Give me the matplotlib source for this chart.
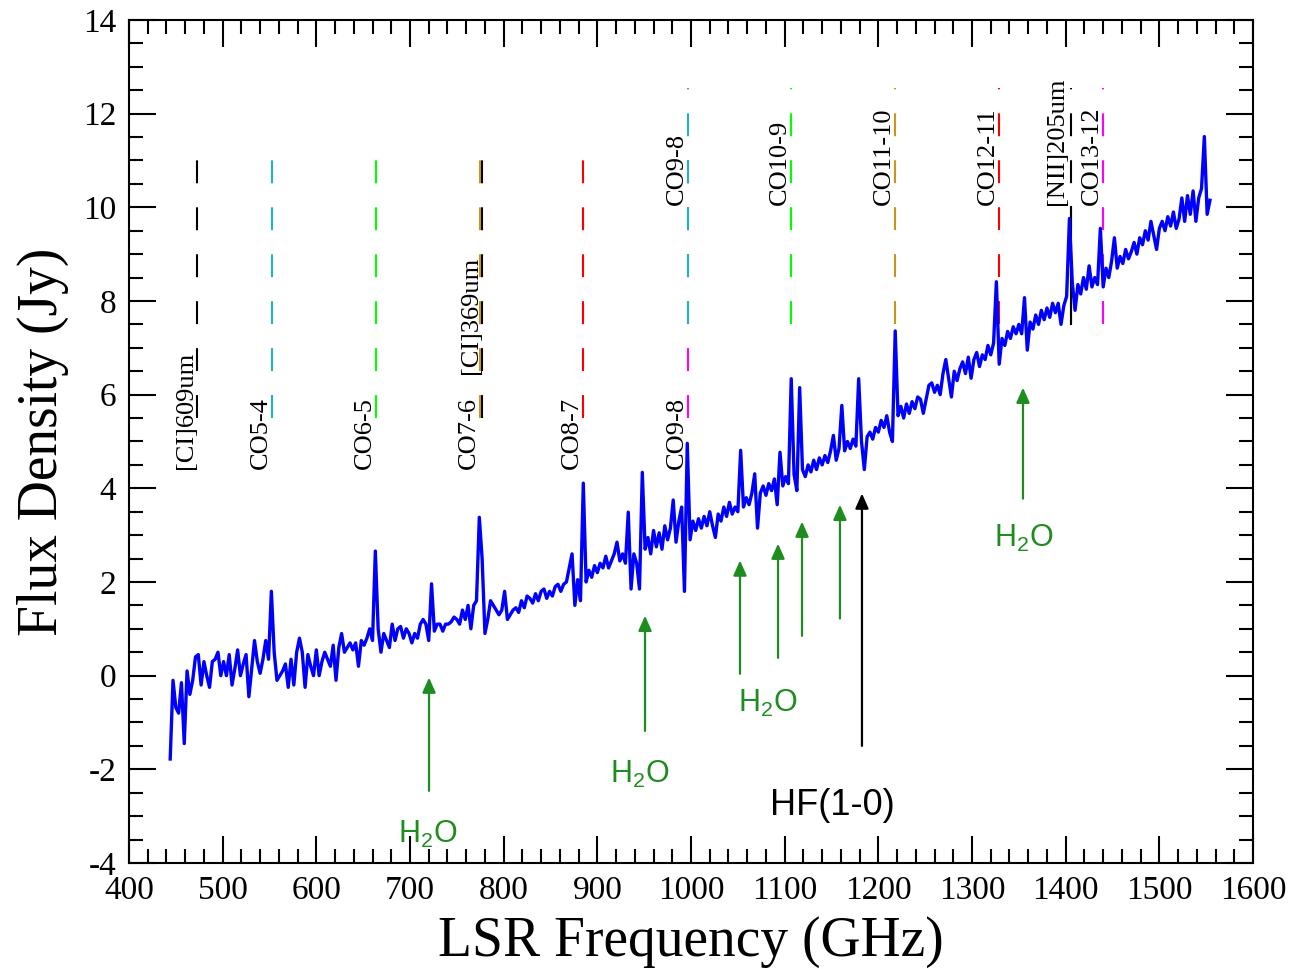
import matplotlib.pyplot as plt
from matplotlib.ticker import MultipleLocator
import numpy as np

plt.rcParams['font.family'] = ['Liberation Serif', 'DejaVu Serif']
plt.rcParams['mathtext.fontset'] = 'custom'
plt.rcParams['mathtext.rm'] = 'Liberation Sans'
plt.rcParams['mathtext.it'] = 'Liberation Sans'
plt.rcParams['lines.scale_dashes'] = False
plt.rcParams['axes.unicode_minus'] = False

# spectrum, one channel every 3 GHz starting at 444 GHz
FREQ_START = 444.0
FREQ_STEP = 3.0
FLUX = [
    # 444 - 471
    -1.78, -0.10, -0.68, -0.80, -0.15, -1.45, 0.10, -0.40, -0.10, 0.40,
    # 474 - 501
    0.45, -0.20, 0.30, 0.00, -0.25, 0.30, 0.35, 0.50, 0.00, 0.30,
    # 504 - 531
    0.00, 0.45, -0.20, 0.15, 0.55, 0.00, 0.25, 0.45, -0.45, 0.15,
    # 534 - 561
    0.75, 0.30, 0.05, 0.35, 0.75, 0.35, 1.80, 0.50, -0.10, 0.00,
    # 564 - 591
    0.10, 0.25, -0.25, 0.35, -0.20, 0.50, 0.80, 0.50, -0.25, 0.45,
    # 594 - 621
    0.20, 0.00, 0.55, 0.00, 0.30, 0.50, 0.35, 0.20, 0.65, -0.10,
    # 624 - 651
    0.60, 0.90, 0.50, 0.60, 0.70, 0.55, 0.70, 0.20, 0.75, 0.65,
    # 654 - 681
    0.80, 1.00, 0.75, 2.66, 1.00, 0.50, 0.90, 0.75, 0.60, 1.10,
    # 684 - 711
    0.75, 1.00, 1.05, 0.80, 1.00, 0.90, 0.70, 0.90, 0.80, 1.10,
    # 714 - 741
    1.20, 1.10, 0.75, 1.96, 0.95, 1.10, 1.10, 0.95, 1.10, 1.10,
    # 744 - 771
    1.15, 1.25, 1.20, 1.10, 1.40, 1.20, 1.50, 1.00, 1.50, 1.60,
    # 774 - 801
    3.38, 2.50, 0.90, 1.20, 1.60, 1.50, 1.40, 1.30, 1.40, 1.80,
    # 804 - 831
    1.20, 1.30, 1.40, 1.45, 1.35, 1.60, 1.45, 1.70, 1.65, 1.55,
    # 834 - 861
    1.75, 1.60, 1.80, 1.85, 1.65, 1.80, 1.70, 1.90, 1.95, 1.80,
    # 864 - 891
    1.95, 2.00, 2.30, 2.60, 1.50, 2.05, 1.60, 4.11, 2.00, 2.25,
    # 894 - 921
    2.10, 2.35, 2.20, 2.40, 2.30, 2.55, 2.30, 2.45, 2.60, 2.85,
    # 924 - 951
    2.45, 2.60, 2.40, 3.49, 1.85, 2.60, 2.40, 1.85, 4.34, 2.70,
    # 954 - 981
    2.95, 2.60, 3.10, 2.75, 3.05, 2.70, 3.20, 2.90, 3.15, 3.75,
    # 984 - 1011
    2.85, 3.30, 3.60, 1.80, 4.96, 2.90, 3.30, 3.10, 3.35, 3.15,
    # 1014 - 1041
    3.40, 3.20, 3.50, 3.20, 2.95, 3.45, 3.30, 3.60, 3.40, 3.70,
    # 1044 - 1071
    3.45, 3.60, 3.50, 4.81, 3.60, 3.80, 3.65, 3.90, 4.31, 3.15,
    # 1074 - 1101
    3.90, 4.05, 3.85, 4.10, 3.95, 4.20, 3.65, 4.77, 4.05, 4.25,
    # 1104 - 1131
    4.10, 6.34, 4.30, 3.95, 6.15, 4.40, 4.25, 4.50, 4.35, 4.60,
    # 1134 - 1161
    4.40, 4.65, 4.50, 4.70, 4.55, 4.80, 5.13, 4.60, 4.85, 5.77,
    # 1164 - 1191
    4.80, 5.00, 4.85, 5.05, 4.90, 6.34, 5.00, 4.40, 5.10, 5.20,
    # 1194 - 1221
    5.05, 5.30, 5.20, 5.45, 5.30, 5.55, 5.20, 5.00, 7.36, 5.55,
    # 1224 - 1251
    5.75, 5.50, 5.80, 5.60, 5.85, 5.70, 5.95, 5.90, 5.60, 5.90,
    # 1254 - 1281
    6.20, 6.25, 6.05, 6.20, 6.00, 6.45, 6.75, 6.35, 5.95, 6.50,
    # 1284 - 1311
    6.30, 6.55, 6.70, 6.45, 6.80, 6.35, 6.75, 6.90, 6.60, 6.85,
    # 1314 - 1341
    6.75, 7.05, 6.85, 7.10, 8.41, 6.65, 7.20, 7.05, 7.35, 7.20,
    # 1344 - 1371
    7.45, 7.30, 7.50, 7.30, 8.07, 6.95, 7.55, 7.40, 7.70, 7.50,
    # 1374 - 1401
    7.80, 7.60, 7.85, 7.65, 7.95, 7.75, 7.95, 7.50, 7.90, 8.10,
    # 1404 - 1431
    9.76, 8.40, 7.80, 8.35, 8.15, 8.50, 8.25, 8.75, 8.30, 8.50,
    # 1434 - 1461
    8.35, 9.55, 8.30, 8.70, 8.50, 8.85, 9.35, 8.70, 8.95, 8.80,
    # 1464 - 1491
    9.10, 8.90, 9.05, 9.25, 9.00, 9.35, 9.20, 9.50, 9.30, 9.70,
    # 1494 - 1521
    9.40, 9.10, 9.55, 9.70, 9.50, 9.80, 9.60, 9.90, 9.55, 9.75,
    # 1524 - 1554
    10.20, 9.70, 10.25, 9.85, 10.35, 9.70, 10.20, 10.40, 11.51, 9.85, 10.15,
]

# line markers, observed frequencies (GHz)
LOW_NAMES = ['[CI]609um', 'CO5-4', 'CO6-5', 'CO7-6', 'CO8-7', 'CO9-8']
LOW_FREQS = [473, 553, 664, 775, 885, 997]
LOW_COLORS = ['black', '#22b3b8', '#00ff00', '#c8961e', '#ff0000', '#ff00ff']

CI369_NAME = '[CI]369um'
CI369_FREQ = 777

HIGH_NAMES = ['CO9-8', 'CO10-9', 'CO11-10', 'CO12-11', 'CO13-12']
HIGH_FREQS = [997, 1107, 1218, 1329, 1440]
HIGH_COLORS = ['#22b3b8', '#00ff00', '#c8961e', '#ff0000', '#ff00ff']

NII_NAME = '[NII]205um'
NII_FREQ = 1406

# water lines and HF (arrows: tail -> tip, Jy)
H2O_FREQS = [720.3, 950.9, 1052.3, 1092.9, 1118.5, 1159.0, 1354.4]
H2O_TAIL = [-2.46, -1.18, 0.04, 0.38, 0.85, 1.22, 3.78]
H2O_TIP = [-0.04, 1.28, 2.46, 2.82, 3.29, 3.65, 6.15]
H2O_LABEL_POS = [(719, -3.38), (945, -2.10), (1082, -0.60), (1355, 2.93)]

HF_FREQ = 1182.5
HF_TAIL = -1.5
HF_TIP = 3.89
HF_LABEL_POS = (1151, -2.78)

GREEN = '#1f8c1f'
DASH = (0, (16.5, 17.3))

fig = plt.figure(figsize=(12.95, 9.69), dpi=100)
ax = fig.add_axes([0.0996, 0.1094, 0.8680, 0.8700])

freq = FREQ_START + FREQ_STEP * np.arange(len(FLUX))
ax.plot(freq, FLUX, color='#0000ff', lw=2.4, zorder=3)

# marker lines - lower row
for name, f, c in zip(LOW_NAMES, LOW_FREQS, LOW_COLORS):
    ax.plot([f, f], [5.5, 11.0], color=c, lw=1.5, linestyle=DASH, zorder=2)
    ax.text(f, 4.42, name, rotation=90, ha='right', va='bottom', fontsize=19)
ax.plot([CI369_FREQ, CI369_FREQ], [5.5, 11.0], color='black', lw=1.5, linestyle=DASH, zorder=1)
ax.text(CI369_FREQ, 6.45, CI369_NAME, rotation=90, ha='right', va='bottom', fontsize=19)

# marker lines - upper row
for name, f, c in zip(HIGH_NAMES, HIGH_FREQS, HIGH_COLORS):
    ax.plot([f, f], [7.5, 12.55], color=c, lw=1.5, linestyle=DASH, zorder=2)
    ax.text(f, 10.05, name, rotation=90, ha='right', va='bottom', fontsize=19)
ax.plot([NII_FREQ, NII_FREQ], [7.5, 12.55], color='black', lw=1.5, linestyle=DASH, zorder=2)
ax.plot([NII_FREQ, NII_FREQ], [7.5, 10.0], color='black', lw=1.5, zorder=2)
ax.text(NII_FREQ - 4, 10.05, NII_NAME, rotation=90, ha='right', va='bottom', fontsize=19)

# arrows
arrow_kw = dict(arrowstyle='-|>,head_length=0.45,head_width=0.2', lw=1.6,
                shrinkA=0, shrinkB=0, mutation_scale=20)
for f, t0, t1 in zip(H2O_FREQS, H2O_TAIL, H2O_TIP):
    ax.annotate('', xy=(f, t1), xytext=(f, t0),
                arrowprops=dict(color=GREEN, **arrow_kw))
ax.annotate('', xy=(HF_FREQ, HF_TIP), xytext=(HF_FREQ, HF_TAIL),
            arrowprops=dict(color='black', **arrow_kw))

for x, y in H2O_LABEL_POS:
    ax.text(x, y, 'H$_2$O', color=GREEN, fontsize=22, ha='center', va='center',
            family='Liberation Sans')
ax.text(HF_LABEL_POS[0], HF_LABEL_POS[1], 'HF(1-0)', color='black', fontsize=26,
        ha='center', va='center', family='Liberation Sans')

ax.set_xlim(400, 1600)
ax.set_ylim(-4, 14)
ax.xaxis.set_major_locator(MultipleLocator(100))
ax.xaxis.set_minor_locator(MultipleLocator(20))
ax.yaxis.set_major_locator(MultipleLocator(2))
ax.yaxis.set_minor_locator(MultipleLocator(0.5))
ax.tick_params(which='both', direction='in', top=True, right=True, width=1.5)
ax.tick_params(which='major', length=19.5, labelsize=24, pad=9)
ax.tick_params(which='minor', length=10)
for s in ax.spines.values():
    s.set_linewidth(1.5)

ax.set_xlabel('LSR Frequency (GHz)', fontsize=40, labelpad=7)
ax.set_ylabel('Flux Density (Jy)', fontsize=40, labelpad=10)

fig.savefig('out.png', dpi=100)
